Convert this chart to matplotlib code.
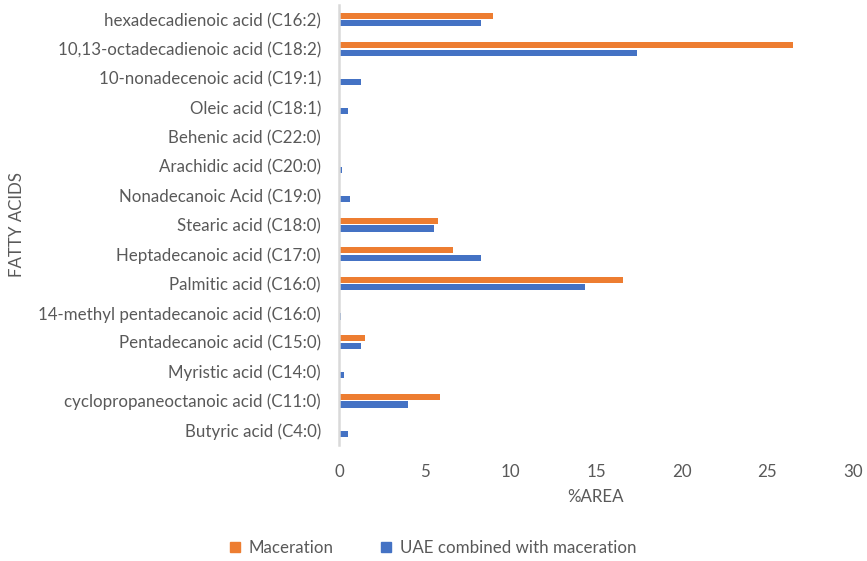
import matplotlib
matplotlib.use("Agg")
import matplotlib.pyplot as plt
import numpy as np
from matplotlib.patches import Patch

plt.rcParams['font.family'] = ['Lato', 'DejaVu Sans']

categories = [
    "Butyric acid (C4:0)",
    "cyclopropaneoctanoic acid (C11:0)",
    "Myristic acid (C14:0)",
    "Pentadecanoic acid (C15:0)",
    "14-methyl pentadecanoic acid (C16:0)",
    "Palmitic acid (C16:0)",
    "Heptadecanoic acid (C17:0)",
    "Stearic acid (C18:0)",
    "Nonadecanoic Acid (C19:0)",
    "Arachidic acid (C20:0)",
    "Behenic acid (C22:0)",
    "Oleic acid (C18:1)",
    "10-nonadecenoic acid (C19:1)",
    "10,13-octadecadienoic acid (C18:2)",
    "hexadecadienoic acid (C16:2)",
]
maceration = [0, 5.9, 0, 1.5, 0, 16.6, 6.65, 5.75, 0, 0, 0, 0, 0, 26.5, 9.0]
uae_maceration = [0.5, 4.05, 0.3, 1.3, 0.1, 14.35, 8.3, 5.55, 0.65, 0.2, 0, 0.5, 1.3, 17.4, 8.3]
x_ticks = [0, 5, 10, 15, 20, 25, 30]

ORANGE = "#ED7D31"
BLUE = "#4472C4"
TEXT = "#595959"
FS = 12.2

fig = plt.figure(figsize=(8.67, 5.61), dpi=100)
W, H = 867, 561
left, right, top, bottom = 339, 853, 4.8, 444.7
ax = fig.add_axes([left / W, (H - bottom) / H, (right - left) / W, (bottom - top) / H])

y = np.arange(len(categories))
bh = 0.21
off = 0.13
ax.barh(y + off, maceration, height=bh, color=ORANGE, label="Maceration")
ax.barh(y - off, uae_maceration, height=bh, color=BLUE, label="UAE combined with maceration")

ax.set_xlim(0, 30)
ax.set_ylim(-0.5, len(categories) - 0.5)
ax.set_xticks(x_ticks)
ax.set_yticks(y)
ax.set_yticklabels(categories)

for s in ["top", "right", "bottom"]:
    ax.spines[s].set_visible(False)
ax.spines["left"].set_color("#D9D9D9")
ax.spines["left"].set_linewidth(1.8)

ax.tick_params(axis="both", length=0, colors=TEXT, labelsize=FS)
ax.tick_params(axis="x", pad=14)
ax.tick_params(axis="y", pad=13)

fig.text(595 / W, 1 - 497 / H, "%AREA", ha="center", va="center", color=TEXT, fontsize=FS)
fig.text(17 / W, 1 - 225 / H, "FATTY ACIDS", ha="center", va="center", rotation=90,
         color=TEXT, fontsize=FS)

handles = [Patch(color=ORANGE), Patch(color=BLUE)]
fig.legend(handles, ["Maceration", "UAE combined with maceration"],
           loc="center", bbox_to_anchor=(433 / W, 1 - 548 / H), ncol=2, frameon=False,
           fontsize=FS, labelcolor=TEXT, handlelength=0.6, handleheight=0.6,
           handletextpad=0.5, columnspacing=2.8)

fig.savefig("out.png", dpi=100)
